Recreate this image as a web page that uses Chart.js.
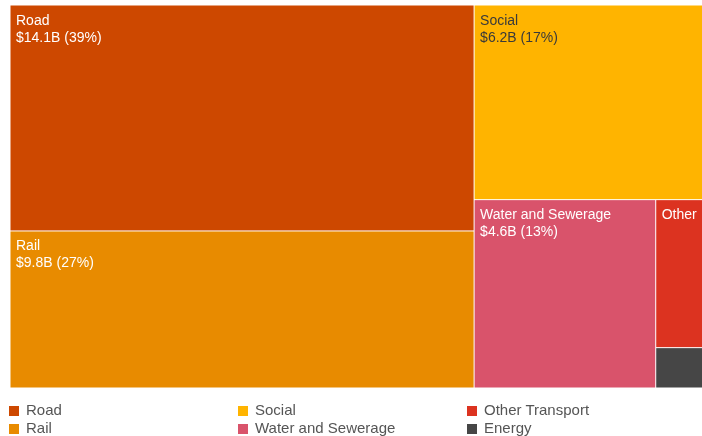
<!DOCTYPE html>
<html>
<head>
<meta charset="utf-8">
<script src="https://cdn.jsdelivr.net/npm/chart.js@4.4.1/dist/chart.umd.min.js"></script>
<style>
  html, body { margin: 0; padding: 0; background: #fff; }
  #wrap { position: relative; width: 702px; height: 436px; overflow: hidden; }
  #legend { position: absolute; left: 0; top: 0; width: 702px; height: 436px; pointer-events: none;
            font-family: Arial, 'Liberation Sans', sans-serif; font-size: 15px; color: #555; }
  .item { position: absolute; white-space: nowrap; line-height: 18px; }
  .swatch { display: inline-block; width: 10px; height: 10px; margin-right: 7px; vertical-align: -1px; }
</style>
</head>
<body>
<div id="wrap">
  <canvas id="treeChart"></canvas>
  <div id="legend"></div>
</div>
<script>
// Infrastructure spending by sector, $ billions
const sectors = ['Road', 'Rail', 'Social', 'Water and Sewerage', 'Other Transport', 'Energy'];
const spend = [14.1, 9.8, 6.2, 4.6, 1.1, 0.3];
const sectorColors = ['#cd4800', '#e88b00', '#ffb400', '#d9536b', '#dc3320', '#464646'];
const labelColors = ['#fff', '#fff', '#3a3a3a', '#fff', '#fff', '#fff'];

// Treemap box in data units (one unit per pixel); only part of the width is shown
const TREE_W = 701;
const TREE_H = 383;
const VIEW_W = 692;
const GOLDEN = (1 + Math.sqrt(5)) / 2;

const total = spend.reduce((a, b) => a + b, 0);

// Squarified layout with golden-ratio rows (same rule as d3.treemapSquarify)
function squarify(values, x0, y0, x1, y1) {
  const cells = [];
  let value = values.reduce((a, b) => a + b, 0);
  let i0 = 0;
  const n = values.length;
  while (i0 < n) {
    const dx = x1 - x0, dy = y1 - y0;
    let i1 = i0;
    let sumValue = values[i1++];
    let minValue = sumValue, maxValue = sumValue;
    const alpha = Math.max(dy / dx, dx / dy) / (value * GOLDEN);
    let beta = sumValue * sumValue * alpha;
    let minRatio = Math.max(maxValue / beta, beta / minValue);
    for (; i1 < n; ++i1) {
      const v = values[i1];
      sumValue += v;
      if (v < minValue) minValue = v;
      if (v > maxValue) maxValue = v;
      beta = sumValue * sumValue * alpha;
      const newRatio = Math.max(maxValue / beta, beta / minValue);
      if (newRatio > minRatio) { sumValue -= v; break; }
      minRatio = newRatio;
    }
    const idx = [];
    for (let k = i0; k < i1; k++) idx.push(k);
    if (dx < dy) {
      // row across the top
      const rowY1 = value ? y0 + dy * sumValue / value : y1;
      let x = x0;
      idx.forEach(k => {
        const w = dx * values[k] / sumValue;
        cells[k] = { x0: x, y0: y0, x1: x + w, y1: rowY1 };
        x += w;
      });
      y0 = rowY1;
    } else {
      // column down the left
      const colX1 = value ? x0 + dx * sumValue / value : x1;
      let y = y0;
      idx.forEach(k => {
        const h = dy * values[k] / sumValue;
        cells[k] = { x0: x0, y0: y, x1: colX1, y1: y + h };
        y += h;
      });
      x0 = colX1;
    }
    value -= sumValue;
    i0 = i1;
  }
  return cells;
}

const cells = squarify(spend, 0, 0, TREE_W, TREE_H);

function labelLines(i) {
  const pct = Math.round(spend[i] / total * 100);
  return { name: sectors[i], value: '$' + spend[i].toFixed(1) + 'B (' + pct + '%)' };
}

const treemapPlugin = {
  id: 'treemapCells',
  afterDatasetsDraw(chart) {
    const { ctx, scales: { x, y } } = chart;
    ctx.save();
    cells.forEach((c, i) => {
      const px0 = x.getPixelForValue(c.x0);
      const px1 = x.getPixelForValue(c.x1);
      const py0 = y.getPixelForValue(c.y0);
      const py1 = y.getPixelForValue(c.y1);
      ctx.fillStyle = sectorColors[i];
      ctx.fillRect(px0 + 0.5, py0 + 0.5, px1 - px0 - 1, py1 - py0 - 1);

      // labels: wrap words to the cell width, drop whatever does not fit
      ctx.font = '14px Arial, "Liberation Sans", sans-serif';
      ctx.fillStyle = labelColors[i];
      ctx.textBaseline = 'alphabetic';
      const pad = 6;
      const maxW = px1 - px0 - pad * 2;
      const maxH = py1 - py0;
      const { name, value } = labelLines(i);
      const words = name.split(' ');
      const lines = [];
      let cur = '';
      let ok = true;
      for (const w of words) {
        const test = cur ? cur + ' ' + w : w;
        if (ctx.measureText(test).width <= maxW) { cur = test; continue; }
        if (cur) { lines.push(cur); cur = w; }
        if (ctx.measureText(w).width > maxW) { ok = false; cur = ''; break; }
      }
      if (cur) lines.push(cur);
      if (ok && ctx.measureText(value).width <= maxW) lines.push(value);
      let by = py0 + 19.5;
      for (const line of lines) {
        if (by + 4 > py0 + maxH) break;
        ctx.fillText(line, px0 + pad, by);
        by += 17;
      }
    });
    ctx.restore();
  }
};

new Chart(document.getElementById('treeChart'), {
  type: 'scatter',
  data: { datasets: [{ data: [] }] },
  options: {
    responsive: true,
    maintainAspectRatio: false,
    animation: false,
    layout: { padding: { left: 10, top: 5, right: 0, bottom: 48 } },
    scales: {
      x: { type: 'linear', min: 0, max: VIEW_W, display: false },
      y: { type: 'linear', min: 0, max: TREE_H, reverse: true, display: false }
    },
    plugins: { legend: { display: false }, tooltip: { enabled: false } }
  },
  plugins: [treemapPlugin]
});

// Legend: three columns, filled column by column
const legend = document.getElementById('legend');
const colX = [9, 238, 467];
const rowY = [401, 419];
sectors.forEach((s, i) => {
  const item = document.createElement('div');
  item.className = 'item';
  item.style.left = colX[Math.floor(i / 2)] + 'px';
  item.style.top = rowY[i % 2] + 'px';
  const sw = document.createElement('span');
  sw.className = 'swatch';
  sw.style.background = sectorColors[i];
  item.appendChild(sw);
  item.appendChild(document.createTextNode(s));
  legend.appendChild(item);
});
</script>
</body>
</html>
